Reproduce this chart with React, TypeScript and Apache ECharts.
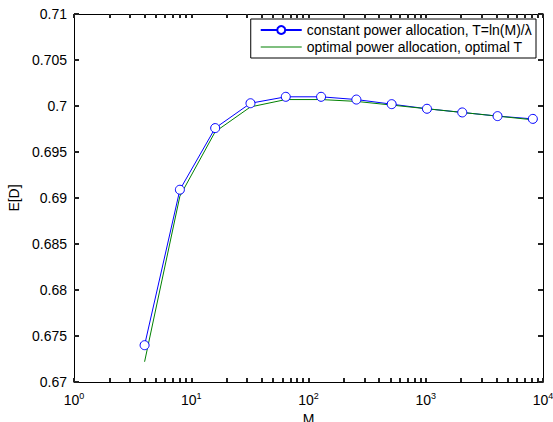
import React, { useEffect, useRef } from "react";
import * as echarts from "echarts";

const M = [4, 8, 16, 32, 64, 128, 256, 512, 1024, 2048, 4096, 8192];
const constantPower = [0.674, 0.6909, 0.6976, 0.7003, 0.701, 0.701, 0.7007, 0.7002, 0.6997, 0.6993, 0.6989, 0.6986];
const optimalPower = [0.6722, 0.6902, 0.6972, 0.6999, 0.7007, 0.7007, 0.7005, 0.7001, 0.6997, 0.6993, 0.6989, 0.6985];
const xMajorTicks = [1, 10, 100, 1000, 10000];
const xMinorTicks = [2, 3, 4, 5, 6, 7, 8, 9, 20, 30, 40, 50, 60, 70, 80, 90, 200, 300, 400, 500, 600, 700, 800, 900, 2000, 3000, 4000, 5000, 6000, 7000, 8000, 9000];
const seriesNames = ["constant power allocation, T=ln(M)/λ", "optimal power allocation, optimal T"];

const FONT = "Liberation Sans";

export default function App() {
  const ref = useRef<HTMLDivElement>(null);
  useEffect(() => {
    if (!ref.current) return;
    const chart = echarts.init(ref.current, null, { renderer: "svg" });
    const baseX = {
      type: "log" as const,
      logBase: 10,
      min: 1,
      max: 10000,
      splitLine: { show: false },
      gridIndex: 0,
    };
    const baseY = {
      type: "value" as const,
      min: 0.67,
      max: 0.71,
      interval: 0.005,
      splitLine: { show: false },
    };
    const mk = () => ({ color: "#000", width: 1 });
    const tk = () => ({ color: "#222", width: 2 });
    chart.setOption({
      animation: false,
      backgroundColor: "#fff",
      grid: { left: 74, right: 10, top: 14, bottom: 40, containLabel: false, outerBoundsMode: "none" },
      legend: {
        orient: "vertical",
        right: 17,
        top: 19,
        backgroundColor: "#fff",
        borderColor: "#000",
        borderWidth: 1,
        borderRadius: 0,
        padding: [4, 4, 4, 9],
        itemGap: 3,
        itemWidth: 41,
        itemHeight: 10,
        textStyle: { fontFamily: FONT, fontSize: 14, color: "#000" },
        data: [
          { name: seriesNames[0] },
          {
            name: seriesNames[1],
            icon: "path://M0,0 L0.01,0 M0,10 L0.01,10 M0,4.5 L41,4.5 L41,5.5 L0,5.5 Z",
          },
        ],
      },
      xAxis: [
        {
          ...baseX,
          position: "bottom",
          name: "M",
          nameLocation: "middle",
          nameGap: 27,
          nameTextStyle: { fontFamily: FONT, fontSize: 14, color: "#000" },
          axisLine: { show: true, lineStyle: mk() },
          axisTick: { show: false },
          axisLabel: {
            show: true,
            margin: 9,
            formatter: (v: number) => `{b|10}{s|${Math.round(Math.log10(v))}}`,
            rich: {
              b: { fontFamily: FONT, fontSize: 14, color: "#000" },
              s: { fontFamily: FONT, fontSize: 9, color: "#000", padding: [0, 0, 9, 0] },
            },
          },
        },
        {
          ...baseX,
          position: "bottom",
          axisLine: { show: false },
          axisTick: { show: true, inside: true, length: 4, lineStyle: tk(), customValues: xMajorTicks.concat(xMinorTicks) },
          axisLabel: { show: false },
        },
        {
          ...baseX,
          position: "top",
          axisLine: { show: true, lineStyle: mk() },
          axisTick: { show: true, inside: true, length: 4, lineStyle: tk(), customValues: xMajorTicks.concat(xMinorTicks) },
          axisLabel: { show: false },
        },
      ],
      yAxis: [
        {
          ...baseY,
          position: "left",
          name: "E[D]",
          nameLocation: "middle",
          nameGap: 44,
          nameRotate: 90,
          nameTextStyle: { fontFamily: FONT, fontSize: 14, color: "#000" },
          axisLine: { show: true, lineStyle: mk() },
          axisTick: { show: false },
          axisLabel: { margin: 7, fontFamily: FONT, fontSize: 14, color: "#000" },
        },
        {
          ...baseY,
          position: "left",
          axisLine: { show: false },
          axisTick: { show: true, inside: true, length: 5, lineStyle: tk() },
          axisLabel: { show: false },
        },
        {
          ...baseY,
          position: "right",
          axisLine: { show: true, lineStyle: mk() },
          axisTick: { show: true, inside: true, length: 5, lineStyle: tk() },
          axisLabel: { show: false },
        },
      ],
      series: [
        {
          name: seriesNames[0],
          type: "line",
          xAxisIndex: 0,
          yAxisIndex: 0,
          data: M.map((m, i) => [m, constantPower[i]]),
          symbol: "circle",
          symbolSize: 9,
          showAllSymbol: true,
          lineStyle: { color: "#0000ff", width: 1 },
          itemStyle: { color: "#ffffff", borderColor: "#0000ff", borderWidth: 1 },
        },
        {
          name: seriesNames[1],
          type: "line",
          xAxisIndex: 0,
          yAxisIndex: 0,
          data: M.map((m, i) => [m, optimalPower[i]]),
          symbol: "none",
          lineStyle: { color: "#008000", width: 1 },
          itemStyle: { color: "#008000" },
        },
      ],
    });
    return () => chart.dispose();
  }, []);
  return (
    <div
      ref={ref}
      style={{ position: "fixed", left: 0, top: 0, width: 553, height: 422 }}
    />
  );
}
